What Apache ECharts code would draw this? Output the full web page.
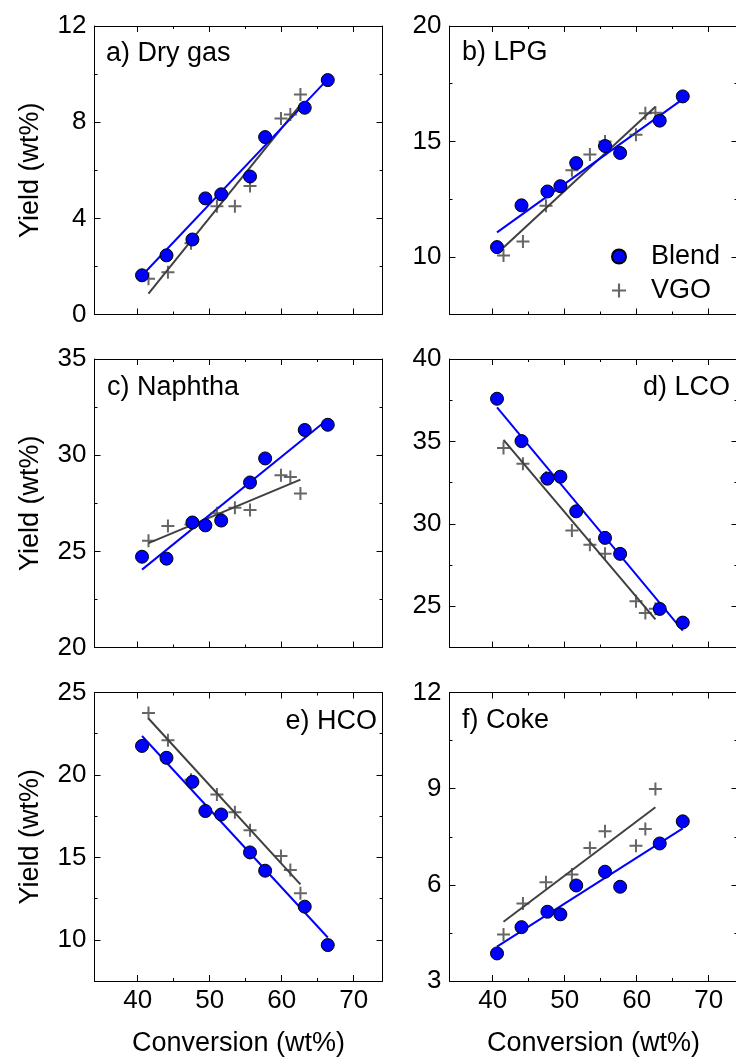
<!DOCTYPE html>
<html><head><meta charset="utf-8">
<script src="https://cdn.jsdelivr.net/npm/echarts@6/dist/echarts.min.js"></script>
<style>html,body{margin:0;padding:0;background:#fff}#c{width:736px;height:1059px}</style>
</head><body><div id="c"></div>
<script>
// ---- data ----
const blendX = [40.6, 44.0, 47.6, 49.4, 51.6, 55.6, 57.7, 63.2, 66.4];
const vgoX   = [41.5, 44.2, 47.4, 51.0, 53.5, 55.6, 59.9, 61.2, 62.6];

const panelNames = ['a) Dry gas', 'b) LPG', 'c) Naphtha', 'd) LCO', 'e) HCO', 'f) Coke'];

const blendDryGas  = [1.63, 2.46, 3.12, 4.83, 5.00, 5.74, 7.38, 8.60, 9.75];
const vgoDryGas    = [1.49, 1.76, 2.96, 4.50, 4.50, 5.35, 8.15, 8.32, 9.15];
const blendLPG     = [10.42, 12.23, 12.83, 13.06, 14.06, 14.80, 14.50, 15.90, 16.95];
const vgoLPG       = [10.06, 10.66, 12.21, 13.75, 14.43, 15.00, 15.29, 16.22, 16.24];
const blendNaphtha = [24.72, 24.62, 26.50, 26.35, 26.60, 28.58, 29.83, 31.31, 31.58];
const vgoNaphtha   = [25.55, 26.32, 26.40, 26.98, 27.27, 27.15, 28.95, 28.87, 28.01];
const blendLCO     = [37.59, 35.02, 32.74, 32.86, 30.76, 29.15, 28.18, 24.84, 24.01];
const vgoLCO       = [34.60, 33.65, 32.80, 29.59, 28.74, 28.18, 25.30, 24.60, 24.85];
const blendHCO     = [21.76, 21.04, 19.58, 17.81, 17.60, 15.30, 14.19, 12.01, 9.68];
const vgoHCO       = [23.76, 22.11, 19.70, 18.82, 17.73, 16.65, 15.08, 14.23, 12.82];
const blendCoke    = [3.86, 4.68, 5.16, 5.08, 5.98, 6.41, 5.94, 7.29, 7.98];
const vgoCoke      = [4.45, 5.42, 6.08, 6.32, 7.15, 7.67, 7.22, 7.74, 8.99];

// fitted lines (end points)
const fitBlendDryGas  = [[40.6, 1.62], [66.4, 9.79]];
const fitVgoDryGas    = [[41.5, 0.87], [62.6, 8.72]];
const fitBlendLPG     = [[40.6, 11.06], [66.4, 16.83]];
const fitVgoLPG       = [[41.5, 10.40], [62.6, 16.50]];
const fitBlendNaphtha = [[40.6, 24.05], [66.4, 31.87]];
const fitVgoNaphtha   = [[41.5, 25.43], [62.6, 28.73]];
const fitBlendLCO     = [[40.6, 37.06], [66.4, 23.53]];
const fitVgoLCO       = [[41.5, 35.10], [62.6, 24.20]];
const fitBlendHCO     = [[40.6, 22.36], [66.4, 10.14]];
const fitVgoHCO       = [[41.5, 23.42], [62.6, 13.36]];
const fitBlendCoke    = [[40.6, 4.07], [66.4, 7.76]];
const fitVgoCoke      = [[41.5, 4.85], [62.6, 8.42]];

// axes
const xRange = [34, 74];
const xTicks = [40, 50, 60, 70];
const xMinorTicks = [45, 55, 65];
const yRanges = [[0, 12], [7.5, 20], [20, 35], [22.5, 40], [7.5, 25], [3, 12]];
const yTicks = [[0, 4, 8, 12], [10, 15, 20], [20, 25, 30, 35], [25, 30, 35, 40], [10, 15, 20, 25], [3, 6, 9, 12]];
const yMinorTicks = [[2, 6, 10], [12.5, 17.5], [22.5, 27.5, 32.5], [27.5, 32.5, 37.5], [12.5, 17.5, 22.5], [4.5, 7.5, 10.5]];

const blendSets = [blendDryGas, blendLPG, blendNaphtha, blendLCO, blendHCO, blendCoke];
const vgoSets = [vgoDryGas, vgoLPG, vgoNaphtha, vgoLCO, vgoHCO, vgoCoke];
const blendFits = [fitBlendDryGas, fitBlendLPG, fitBlendNaphtha, fitBlendLCO, fitBlendHCO, fitBlendCoke];
const vgoFits = [fitVgoDryGas, fitVgoLPG, fitVgoNaphtha, fitVgoLCO, fitVgoHCO, fitVgoCoke];

// ---- layout / style ----
const FONT = 'Liberation Sans';
const colLeft = [94.5, 449.5];
const rowTop = [26, 359, 692.5];
const plotW = 288, plotH = 288.5;
const BLUE = '#0000ff', GRAY = '#404040';
const PLUS = 'path://M5.5,0H7.5V5.5H13V7.5H7.5V13H5.5V7.5H0V5.5H5.5Z';

const grids = [], xAxes = [], yAxes = [], series = [];

function axisBase(gridIndex, position, min, max, ticks, showLine, showLabel, tickLen) {
  return {
    type: 'value', gridIndex, position, min, max,
    axisLine: { show: showLine, onZero: false, lineStyle: { color: '#000', width: 1 } },
    axisTick: { show: true, inside: true, length: tickLen, customValues: ticks, lineStyle: { color: '#000', width: 1 } },
    axisLabel: { show: showLabel, customValues: ticks, fontSize: 26, color: '#000', fontFamily: FONT },
    splitLine: { show: false }, minorTick: { show: false }, minorSplitLine: { show: false },
    axisPointer: { show: false }, silent: true
  };
}

for (let p = 0; p < 6; p++) {
  const col = p % 2, row = Math.floor(p / 2);
  const rect = { left: colLeft[col], top: rowTop[row], width: plotW, height: plotH, containLabel: false, outerBoundsMode: 'none' };
  const gMain = grids.length; grids.push(Object.assign({}, rect));
  const gMinor = grids.length; grids.push(Object.assign({}, rect));
  const yr = yRanges[p];
  const isBottom = row === 2, isLeft = col === 0;

  // main axes
  const xb = axisBase(gMain, 'bottom', xRange[0], xRange[1], xTicks, true, isBottom, 6);
  xb.axisLabel.margin = 7;
  if (isBottom) {
    xb.name = 'Conversion (wt%)'; xb.nameLocation = 'middle'; xb.nameGap = 49; xb.nameMoveOverlap = false;
    xb.nameTextStyle = { fontSize: 27, color: '#000', fontFamily: FONT };
  }
  const xMainIdx = xAxes.length; xAxes.push(xb);
  xAxes.push(axisBase(gMain, 'top', xRange[0], xRange[1], xTicks, true, false, 6));
  const yl = axisBase(gMain, 'left', yr[0], yr[1], yTicks[p], true, true, 6);
  yl.axisLabel.margin = 8;
  if (isLeft) {
    yl.name = 'Yield (wt%)'; yl.nameLocation = 'middle'; yl.nameGap = 50; yl.nameRotate = 90; yl.nameMoveOverlap = false;
    yl.nameTextStyle = { fontSize: 27, color: '#000', fontFamily: FONT };
  }
  const yMainIdx = yAxes.length; yAxes.push(yl);
  yAxes.push(axisBase(gMain, 'right', yr[0], yr[1], yTicks[p], true, false, 6));

  // minor tick axes
  xAxes.push(axisBase(gMinor, 'bottom', xRange[0], xRange[1], xMinorTicks, false, false, 3));
  xAxes.push(axisBase(gMinor, 'top', xRange[0], xRange[1], xMinorTicks, false, false, 3));
  yAxes.push(axisBase(gMinor, 'left', yr[0], yr[1], yMinorTicks[p], false, false, 3));
  yAxes.push(axisBase(gMinor, 'right', yr[0], yr[1], yMinorTicks[p], false, false, 3));

  series.push({
    type: 'line', name: 'VGO fit', xAxisIndex: xMainIdx, yAxisIndex: yMainIdx,
    data: vgoFits[p], symbol: 'none', showSymbol: false, silent: true, z: 2,
    lineStyle: { color: GRAY, width: 2 }, itemStyle: { color: GRAY }
  });
  series.push({
    type: 'line', name: 'Blend fit', xAxisIndex: xMainIdx, yAxisIndex: yMainIdx,
    data: blendFits[p], symbol: 'none', showSymbol: false, silent: true, z: 2,
    lineStyle: { color: BLUE, width: 2 }, itemStyle: { color: BLUE }
  });
  series.push({
    type: 'scatter', name: 'VGO', xAxisIndex: xMainIdx, yAxisIndex: yMainIdx,
    data: vgoX.map((x, i) => [x, vgoSets[p][i]]), symbol: PLUS, symbolSize: 13, silent: true, z: 3,
    itemStyle: { color: GRAY }
  });
  series.push({
    type: 'scatter', name: 'Blend', xAxisIndex: xMainIdx, yAxisIndex: yMainIdx,
    data: blendX.map((x, i) => [x, blendSets[p][i]]), symbol: 'circle', symbolSize: 13, silent: true, z: 4,
    itemStyle: { color: BLUE, borderColor: '#000', borderWidth: 1, opacity: 1 }
  });
}

const titleStyle = { fontSize: 27, fontWeight: 'normal', color: '#000', fontFamily: FONT };
const titles = [
  { text: panelNames[0], left: 106, top: 40 },
  { text: panelNames[1], left: 462, top: 39 },
  { text: panelNames[2], left: 107, top: 374 },
  { text: panelNames[3], right: 6, top: 374 },
  { text: panelNames[4], right: 359, top: 708 },
  { text: panelNames[5], left: 462, top: 707 }
].map(t => Object.assign({ padding: 0, textStyle: titleStyle }, t));

const chart = echarts.init(document.getElementById('c'), null, { renderer: 'canvas' });
chart.setOption({
  animation: false,
  backgroundColor: '#fff',
  title: titles,
  legend: {
    data: [{ name: 'Blend', icon: 'circle' }, { name: 'VGO', icon: PLUS }],
    orient: 'vertical', left: 611, top: 243, itemWidth: 54, itemHeight: 14, itemGap: 7,
    selectedMode: false, padding: 0,
    textStyle: { fontSize: 27, color: '#000', fontFamily: FONT, lineHeight: 27 }
  },
  grid: grids, xAxis: xAxes, yAxis: yAxes, series
});
</script></body></html>
